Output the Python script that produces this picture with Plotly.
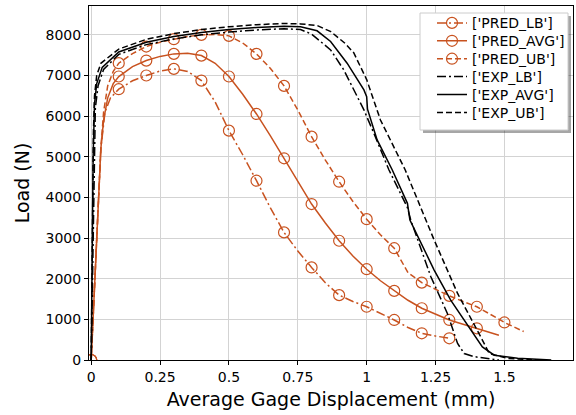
import plotly.graph_objects as go

# ---------------- data ----------------
pred_lb_x = [0, 0.02, 0.035, 0.05, 0.07, 0.1, 0.15, 0.2, 0.25, 0.3, 0.35, 0.4, 0.45, 0.5, 0.55, 0.6,
             0.65, 0.7, 0.75, 0.8, 0.85, 0.9, 0.95, 1.0, 1.05, 1.1, 1.15, 1.2, 1.25, 1.3]
pred_lb_y = [0, 3000, 5200, 6100, 6450, 6663, 6870, 7000, 7110, 7163, 7100, 6875, 6350, 5643, 5050, 4411,
             3750, 3140, 2680, 2278, 1900, 1596, 1440, 1310, 1150, 985, 800, 657, 590, 534]

pred_avg_x = [0, 0.02, 0.035, 0.045, 0.06, 0.08, 0.1, 0.15, 0.2, 0.25, 0.3, 0.35, 0.4, 0.45, 0.5, 0.55,
              0.6, 0.65, 0.7, 0.75, 0.8, 0.85, 0.9, 0.95, 1.0, 1.05, 1.1, 1.15, 1.2, 1.25, 1.3, 1.35, 1.4, 1.48]
pred_avg_y = [0, 3000, 5200, 5900, 6450, 6800, 6975, 7220, 7367, 7470, 7532, 7550, 7490, 7300, 6975, 6540,
              6054, 5520, 4963, 4390, 3837, 3370, 2934, 2560, 2234, 1950, 1700, 1470, 1273, 1120, 985, 880, 780, 611]

pred_ub_x = [0, 0.02, 0.035, 0.045, 0.06, 0.08, 0.1, 0.15, 0.2, 0.25, 0.3, 0.35, 0.4, 0.45, 0.5, 0.55,
             0.6, 0.65, 0.7, 0.75, 0.8, 0.85, 0.9, 0.95, 1.0, 1.05, 1.1, 1.15, 1.2, 1.25, 1.3, 1.35,
             1.4, 1.45, 1.5, 1.57]
pred_ub_y = [0, 3000, 5200, 6100, 6750, 7100, 7303, 7540, 7712, 7820, 7893, 7960, 8000, 8010, 7975, 7800,
             7532, 7180, 6744, 6150, 5495, 4920, 4387, 3900, 3465, 3080, 2751, 2150, 1904, 1740, 1579, 1440,
             1310, 1120, 924, 700]

exp_lb_x = [0, 0.005, 0.01, 0.015, 0.025, 0.045, 0.1, 0.2, 0.3, 0.4, 0.5, 0.6, 0.7, 0.76, 0.8, 0.869,
            0.917, 0.99, 1.026, 1.081, 1.148, 1.155, 1.16, 1.233, 1.293, 1.33, 1.354, 1.39, 1.48]
exp_lb_y = [0, 2500, 5000, 6200, 6750, 7150, 7520, 7760, 7900, 8000, 8070, 8120, 8150, 8130, 8020, 7630,
            7138, 6153, 5579, 4675, 3750, 3600, 3444, 2048, 1145, 406, 160, 82, 0]

exp_avg_x = [0, 0.003, 0.007, 0.012, 0.02, 0.04, 0.1, 0.2, 0.3, 0.4, 0.5, 0.6, 0.7, 0.76, 0.82, 0.869,
             0.929, 0.99, 1.0, 1.003, 1.038, 1.093, 1.148, 1.157, 1.245, 1.305, 1.378, 1.42, 1.463,
             1.548, 1.67]
exp_avg_y = [0, 2500, 5000, 6300, 6800, 7200, 7580, 7820, 7960, 8060, 8130, 8180, 8210, 8200, 8100, 7836,
             7303, 6645, 6480, 6170, 5414, 4675, 3855, 3444, 2212, 1473, 734, 323, 119, 41, 0]

exp_ub_x = [0, 0.004, 0.008, 0.012, 0.02, 0.035, 0.1, 0.2, 0.3, 0.4, 0.5, 0.6, 0.7, 0.76, 0.82, 0.87,
            0.92, 0.953, 1.0, 1.05, 1.14, 1.245, 1.33, 1.414, 1.445, 1.51, 1.6]
exp_ub_y = [0, 3000, 5600, 6500, 7000, 7300, 7650, 7890, 8030, 8130, 8200, 8250, 8280, 8270, 8230, 8080,
            7800, 7560, 6900, 5906, 4675, 2951, 1638, 569, 160, 41, 5]

legend_names = ["['PRED_LB']", "['PRED_AVG']", "['PRED_UB']", "['EXP_LB']", "['EXP_AVG']", "['EXP_UB']"]
x_ticks = [0, 0.25, 0.5, 0.75, 1, 1.25, 1.5]
x_tick_text = ["0", "0.25", "0.5", "0.75", "1", "1.25", "1.5"]
y_ticks = [0, 1000, 2000, 3000, 4000, 5000, 6000, 7000, 8000]

# ---------------- styling / layout constants ----------------
ORANGE = "#c8521f"
CLEAR = "rgba(0,0,0,0)"
DASHDOT = "9px,3px,2px,3px"
DASHED = "6px,3px"
FONT = "DejaVu Sans"
W, H = 576, 415
ML, MR, MT, MB = 89, 3, 6, 55
PW, PH = W - ML - MR, H - MT - MB


def px_to_paper(px_x=None, px_y=None):
    fx = None if px_x is None else (px_x - ML) / PW
    fy = None if px_y is None else (H - MB - px_y) / PH
    return fx, fy


def marker_colors(xs):
    # circles only every 0.1 mm, like the reference's markevery
    out = []
    for v in xs:
        k = round(v * 10)
        out.append(ORANGE if abs(v * 10 - k) < 1e-6 else CLEAR)
    return out


fig = go.Figure()
legend_ids = ["legend", "legend2", "legend3", "legend4", "legend5", "legend6"]

pred = [(pred_lb_x, pred_lb_y, DASHDOT), (pred_avg_x, pred_avg_y, "solid"), (pred_ub_x, pred_ub_y, DASHED)]
for i, (xs, ys, dash) in enumerate(pred):
    fig.add_trace(go.Scatter(
        x=xs, y=ys, mode="lines+markers", name=legend_names[i], legend=legend_ids[i],
        line=dict(color=ORANGE, width=1.5, dash=dash),
        marker=dict(symbol="circle-open", size=11, color=marker_colors(xs), line=dict(width=1.2)),
    ))

exp = [(exp_lb_x, exp_lb_y, DASHDOT), (exp_avg_x, exp_avg_y, "solid"), (exp_ub_x, exp_ub_y, DASHED)]
for i, (xs, ys, dash) in enumerate(exp):
    fig.add_trace(go.Scatter(
        x=xs, y=ys, mode="lines", name=legend_names[3 + i], legend=legend_ids[3 + i],
        line=dict(color="black", width=1.5, dash=dash),
    ))

# legend: one entry per row, placed at matplotlib-like spacing
row_y0, row_dy = 23.3, 17.9
legend_left_px = 432
legend_layout = {}
for i, lid in enumerate(legend_ids):
    lx, ly = px_to_paper(legend_left_px, row_y0 + i * row_dy)
    legend_layout[lid] = dict(
        x=lx, y=ly, xanchor="left", yanchor="middle",
        bgcolor=CLEAR, borderwidth=0,
        font=dict(family=FONT, size=14, color="black"),
    )

# legend frame with drop shadow
bx0, by0 = px_to_paper(420, 130)
bx1, by1 = px_to_paper(568, 13)
sx, sy = 3 / PW, 3 / PH
shapes = [
    dict(type="rect", xref="paper", yref="paper", x0=bx0 + sx, x1=bx1 + sx, y0=by0 - sy, y1=by1 - sy,
         fillcolor="rgba(0,0,0,0.35)", line=dict(width=0), layer="above"),
    dict(type="rect", xref="paper", yref="paper", x0=bx0, x1=bx1, y0=by0, y1=by1,
         fillcolor="white", line=dict(color="#cccccc", width=1), layer="above"),
]

fig.update_layout(
    width=W, height=H,
    margin=dict(l=ML, r=MR, t=MT, b=MB, autoexpand=False),
    paper_bgcolor="white", plot_bgcolor="white",
    font=dict(family=FONT, color="black", size=14),
    showlegend=True,
    shapes=shapes,
    xaxis=dict(
        range=[-0.008, 1.749], tickmode="array", tickvals=x_ticks, ticktext=x_tick_text,
        showgrid=True, gridcolor="#d3d3d3", gridwidth=1,
        showline=True, linecolor="black", linewidth=1, mirror=True,
        ticks="outside", ticklen=4, tickcolor="black", zeroline=False,
        tickfont=dict(size=14), automargin=False,
        title=dict(text="Average Gage Displacement (mm)", font=dict(size=19), standoff=8),
    ),
    yaxis=dict(
        range=[0, 8710], tickmode="array", tickvals=y_ticks,
        showgrid=True, gridcolor="#d3d3d3", gridwidth=1,
        showline=True, linecolor="black", linewidth=1, mirror=True,
        ticks="outside", ticklen=4, tickcolor="black", zeroline=False,
        tickfont=dict(size=14), automargin=False,
        title=dict(text="Load (N)", font=dict(size=19), standoff=10),
    ),
    **legend_layout,
)

fig.write_html("out.html", config={"displayModeBar": False},
               post_script="document.body.style.margin='0';")
